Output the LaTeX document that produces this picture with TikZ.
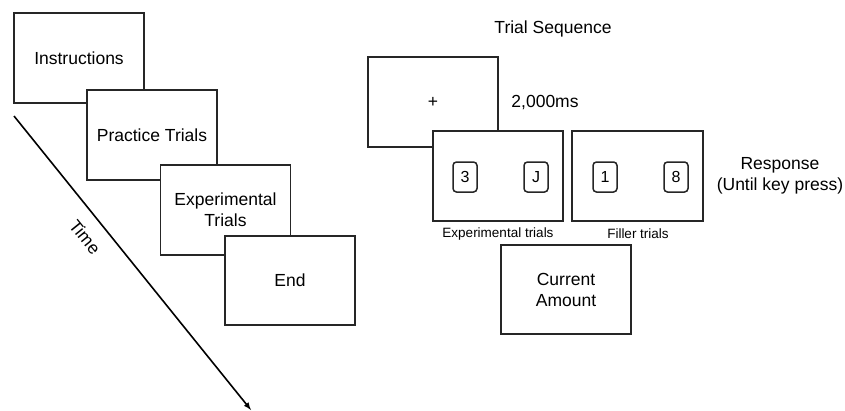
\documentclass[tikz,border=0pt]{standalone}
\usepackage{fontspec}
\setmainfont{Liberation Sans}
\begin{document}
\begin{tikzpicture}[x=1pt,y=-1pt,
  screen/.style={draw=black!85, line width=1.6pt, fill=white, minimum width=130pt, minimum height=90pt, inner sep=0pt, outer sep=0pt, font=\fontsize{17.5}{21}\selectfont, align=center},
  keybox/.style={draw=black!85, line width=1.5pt, rounded corners=3.5pt, minimum width=24pt, minimum height=30pt, inner sep=0pt, font=\fontsize{16}{18}\selectfont},
  lbl/.style={font=\fontsize{17.5}{21}\selectfont, align=center, inner sep=0pt},
  small/.style={font=\fontsize{13.5}{15}\selectfont, inner sep=0pt}]
\useasboundingbox (0,0) rectangle (845,410);
% left: block sequence
\node[screen] (ins) at (79,58) {Instructions};
\node[screen] (prac) at (152,135) {Practice Trials};
\node[screen] (expb) at (225.5,210) {Experimental\\Trials};
\node[screen, minimum height=89pt] (endb) at (290,280.5) {End};
\coordinate (t0) at (14,116);
\coordinate (t1) at (251,410);
\draw[line width=1.6pt, -latex] (t0) -- (t1);
\node[lbl, rotate=-51] (time) at (85,237) {Time};
% right: trial sequence
\node[lbl] (title) at (553,29) {Trial Sequence};
\node[screen] (fix) at (433,102) {+};
\node[lbl] (dur) at (545,103) {2,000ms};
\node[screen] (expt) at (498,176) {};
\node[screen, minimum width=131pt] (fil) at (637.5,176) {};
\node[keybox] (k3) at (465,177) {3};
\node[keybox] (kJ) at (536,177) {J};
\node[keybox] (k1) at (605,177) {1};
\node[keybox] (k8) at (676,177) {8};
\node[small] (lexp) at (498,234) {Experimental trials};
\node[small] (lfil) at (638,234) {Filler trials};
\node[lbl] (resp) at (780,176) {Response\\(Until key press)};
\node[screen, minimum height=89pt] (cur) at (566,289.5) {Current\\Amount};
\end{tikzpicture}
\end{document}
